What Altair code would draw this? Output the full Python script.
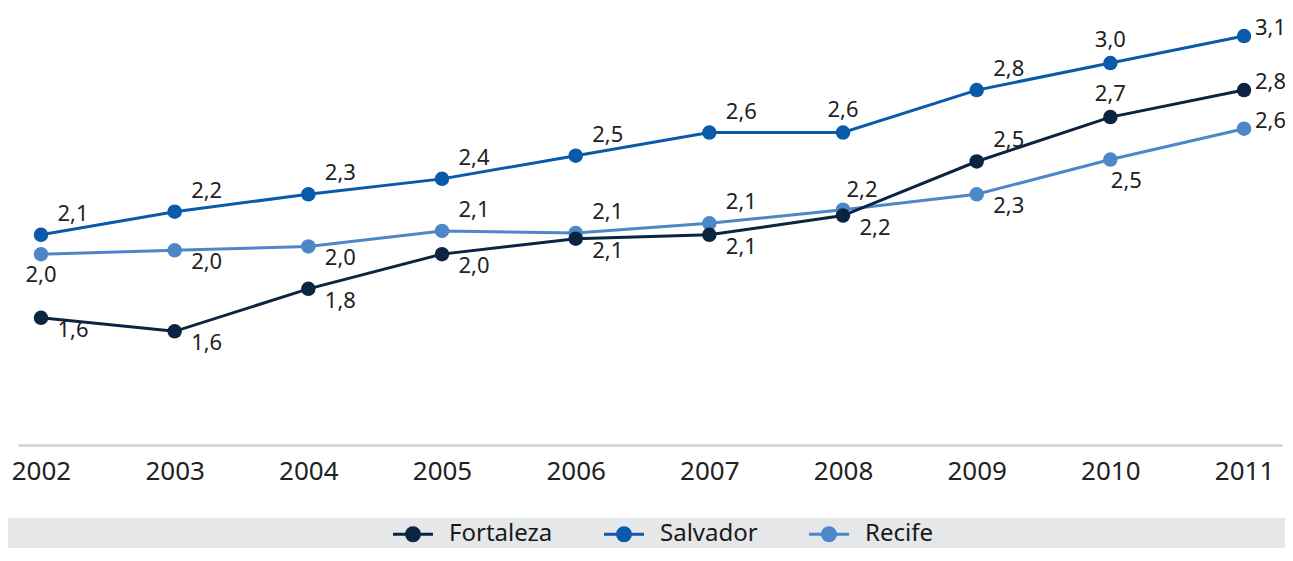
import altair as alt
import pandas as pd

years = [2002, 2003, 2004, 2005, 2006, 2007, 2008, 2009, 2010, 2011]
series = ["Fortaleza", "Salvador", "Recife"]
colors = ["#0b2442", "#0a5aaa", "#4e87c7"]

fortaleza = [1.64, 1.57, 1.79, 1.97, 2.05, 2.07, 2.17, 2.45, 2.68, 2.82]
salvador = [2.07, 2.19, 2.28, 2.36, 2.48, 2.60, 2.60, 2.82, 2.96, 3.10]
recife = [1.97, 1.99, 2.01, 2.09, 2.08, 2.13, 2.20, 2.28, 2.46, 2.62]

fortaleza_lbl = ["1,6", "1,6", "1,8", "2,0", "2,1", "2,1", "2,2", "2,5", "2,7", "2,8"]
salvador_lbl = ["2,1", "2,2", "2,3", "2,4", "2,5", "2,6", "2,6", "2,8", "3,0", "3,1"]
recife_lbl = ["2,0", "2,0", "2,0", "2,1", "2,1", "2,1", "2,2", "2,3", "2,5", "2,6"]

# label placement: ar=above-right, br=below-right, a=above, b=below, r=right
fortaleza_pos = ["br", "br", "br", "br", "br", "br", "br", "ar", "a", "r"]
salvador_pos = ["ar", "ar", "ar", "ar", "ar", "ar", "a", "ar", "a", "r"]
recife_pos = ["b", "br", "br", "ar", "ar", "ar", "an", "br", "bn", "r"]

rows = []
for name, vals, lbls, poss in [
    ("Salvador", salvador, salvador_lbl, salvador_pos),
    ("Recife", recife, recife_lbl, recife_pos),
    ("Fortaleza", fortaleza, fortaleza_lbl, fortaleza_pos),
]:
    for yr, v, l, p in zip(years, vals, lbls, poss):
        rows.append({"ano": yr, "valor": v, "cidade": name, "rotulo": l, "pos": p})
df = pd.DataFrame(rows)

FONT = "Noto Sans"
W, H = 1264, 435

xscale = alt.Scale(domain=[2001.828, 2011.284], nice=False, zero=False)
yscale = alt.Scale(domain=[0.981, 3.235], nice=False, zero=False)

ring = "A{r},{r} 0 1,1 -{r},0A{r},{r} 0 1,1 {r},0"
sym = "M-2.22,0L2.22,0"
for r in [0.167, 0.444, 0.722]:
    sym += "M{r},0".format(r=r) + ring.format(r=r)

color = alt.Color(
    "cidade:N",
    scale=alt.Scale(domain=series, range=colors),
    legend=alt.Legend(
        title=None,
        orient="none",
        direction="horizontal",
        legendX=383,
        legendY=512,
        symbolType=sym,
        symbolSize=324,
        symbolStrokeWidth=3,
        labelOffset=24,
        columnPadding=45,
        labelFontSize=24,
        labelFont=FONT,
        labelColor="#1a1a1a",
        labelLimit=400,
        padding=0,
    ),
)

x = alt.X("ano:Q", scale=xscale,
          axis=alt.Axis(title=None, values=years, format="d", grid=False, ticks=False,
                        domainColor="#d9d9d9", domainWidth=3, labelFontSize=26,
                        labelFont=FONT, labelColor="#222222", labelPadding=13,
                        labelFlush=False))
y = alt.Y("valor:Q", scale=yscale, axis=None)

band = alt.Chart(pd.DataFrame({"a": [0]})).mark_rect(color="#e6e7e9").encode(
    x=alt.value(-10), x2=alt.value(W + 4), y=alt.value(508), y2=alt.value(545)
)

base = alt.Chart(df)
lines = base.mark_line(strokeWidth=3).encode(x=x, y=y, color=color)
points = base.mark_circle(size=210, opacity=1).encode(
    x=x, y=y, color=alt.Color("cidade:N", scale=alt.Scale(domain=series, range=colors), legend=None)
)

offsets = {
    "ar": (32, -21), "br": (32, 12), "a": (0, -23), "b": (0, 21),
    "an": (19, -20), "bn": (16, 21),
}
texts = []
for p, (dx, dy) in offsets.items():
    texts.append(
        base.transform_filter(alt.datum.pos == p)
        .mark_text(dx=dx, dy=dy, fontSize=22, font=FONT, color="#222222",
                   align="center", baseline="middle")
        .encode(x=x, y=y, text="rotulo:N")
    )
texts.append(
    base.transform_filter(alt.datum.pos == "r")
    .mark_text(dx=11, dy=-8, fontSize=22, font=FONT, color="#222222",
               align="left", baseline="middle")
    .encode(x=x, y=y, text="rotulo:N")
)

chart = alt.layer(band, lines, points, *texts).properties(
    width=W, height=H,
    autosize=alt.AutoSizeParams(type="none"),
    padding={"left": 10, "top": 2, "right": 3, "bottom": 103},
).configure_view(stroke=None)

chart.save("out.html", embed_options={"renderer": "svg", "actions": False})
